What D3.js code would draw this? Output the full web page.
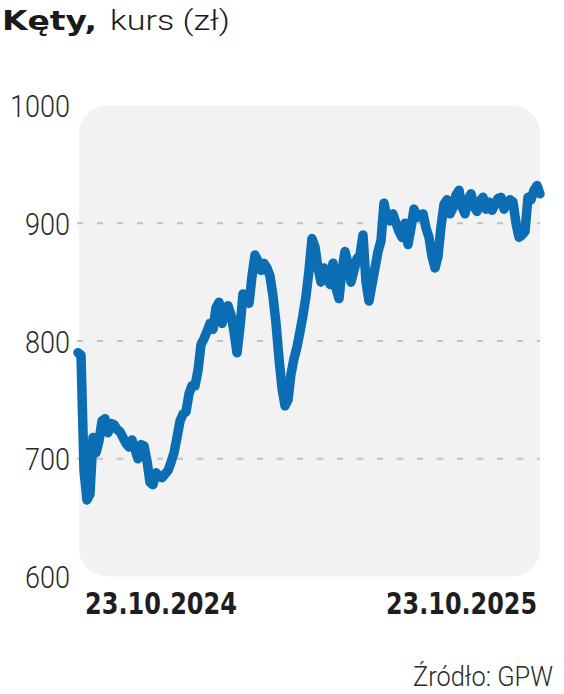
<!DOCTYPE html>
<html>
<head>
<meta charset="utf-8">
<script src="https://cdn.jsdelivr.net/npm/d3@7"></script>
<style>
  html, body { margin: 0; padding: 0; background: #fff; }
  svg { display: block; }
</style>
</head>
<body>
<svg id="chart" width="564" height="694"></svg>
<script>
// ---- data ----
const titleBold = "Kęty,";
const titleRest = "kurs (zł)";
const startLabel = "23.10.2024";
const endLabel = "23.10.2025";
const sourceLabel = "Źródło: GPW";
const yTicks = [600, 700, 800, 900, 1000];
const gridValues = [700, 800, 900];
const prices = [
  790, 788, 690, 665, 670, 718, 705, 715, 732, 734,
  722, 730, 729, 725, 723, 718, 713, 710, 716, 708,
  700, 712, 711, 698, 680, 678, 688, 685, 684, 687,
  690, 697, 705, 718, 732, 738, 740, 755, 762, 762,
  775, 797, 802, 808, 815, 810, 828, 833, 815, 826,
  830, 822, 808, 790, 812, 840, 836, 832, 855, 873,
  868, 860, 866, 862, 855, 838, 815, 785, 760, 745,
  750, 772, 785, 795, 808, 822, 838, 860, 887, 880,
  862, 850, 862, 855, 848, 866, 845, 836, 860, 876,
  866, 850, 860, 870, 873, 890, 850, 834, 848, 862,
  876, 885, 917, 905, 902, 908, 900, 893, 888, 900,
  882, 896, 912, 905, 907, 908, 896, 888, 872, 862,
  872, 897, 916, 920, 908, 913, 924, 928, 914, 908,
  920, 925, 914, 910, 919, 922, 912, 918, 911, 916,
  921, 922, 912, 917, 920, 918, 900, 888, 890, 893,
  922, 920, 928, 932, 925
];

// ---- chart ----
const svg = d3.select("#chart");
const x = d3.scaleLinear().domain([0, prices.length - 1]).range([78, 540]);
const y = d3.scaleLinear().domain([600, 1000]).range([576.5, 105.5]);

// background panel
svg.append("rect")
  .attr("x", x(0) + 1)
  .attr("y", y(1000))
  .attr("width", x(prices.length - 1) - x(0) - 1)
  .attr("height", y(600) - y(1000))
  .attr("rx", 28)
  .attr("fill", "#f2f2f2");

// gridlines
svg.append("g").selectAll("line").data(gridValues).join("line")
  .attr("x1", 77).attr("x2", x(prices.length - 1))
  .attr("y1", d => y(d)).attr("y2", d => y(d))
  .attr("stroke", "#c2c2c2")
  .attr("stroke-width", 2)
  .attr("stroke-dasharray", "6,14");

// y axis labels
const yAxis = d3.axisLeft(y).tickValues(yTicks).tickSize(0).tickPadding(0).tickFormat(d3.format("d"));
const gy = svg.append("g").attr("transform", "translate(70,0)").call(yAxis);
gy.select(".domain").remove();
gy.selectAll("text")
  .attr("font-family", "Roboto, 'DejaVu Sans', sans-serif")
  .attr("font-weight", 300)
  .attr("font-size", 31)
  .attr("fill", "#2a2a2a")
  .attr("dy", "0.36em")
  .attr("x", 0)
  .attr("textLength", d => d >= 1000 ? 60 : 45)
  .attr("lengthAdjust", "spacingAndGlyphs");

// price line
const line = d3.line().x((d, i) => x(i)).y(d => y(d));
svg.append("path")
  .datum(prices)
  .attr("d", line)
  .attr("fill", "none")
  .attr("stroke", "#0b6db3")
  .attr("stroke-width", 9.5)
  .attr("stroke-linejoin", "round")
  .attr("stroke-linecap", "round");

// title
svg.append("text")
  .attr("x", 2).attr("y", 30)
  .attr("font-family", "'DejaVu Sans', sans-serif")
  .attr("font-weight", 700)
  .attr("font-size", 27)
  .attr("fill", "#1a1a1a")
  .attr("textLength", 95)
  .attr("lengthAdjust", "spacingAndGlyphs")
  .text(titleBold);
svg.append("text")
  .attr("x", 110).attr("y", 30)
  .attr("font-family", "Roboto, 'DejaVu Sans', sans-serif")
  .attr("font-weight", 300)
  .attr("font-size", 28)
  .attr("fill", "#1a1a1a")
  .attr("textLength", 120)
  .attr("lengthAdjust", "spacingAndGlyphs")
  .text(titleRest);

// date labels
const dateG = svg.append("g")
  .attr("font-family", "'DejaVu Sans Condensed', 'DejaVu Sans', sans-serif")
  .attr("font-weight", 700)
  .attr("font-size", 31)
  .attr("fill", "#1e1e1e");
dateG.append("text").attr("x", x(0) + 7).attr("y", 614)
  .attr("textLength", 152).attr("lengthAdjust", "spacingAndGlyphs")
  .text(startLabel);
dateG.append("text").attr("x", x(prices.length - 1) - 3).attr("y", 614)
  .attr("text-anchor", "end")
  .attr("textLength", 151).attr("lengthAdjust", "spacingAndGlyphs")
  .text(endLabel);

// source
svg.append("text")
  .attr("x", 553).attr("y", 686)
  .attr("text-anchor", "end")
  .attr("font-family", "Roboto, 'DejaVu Sans', sans-serif")
  .attr("font-weight", 300)
  .attr("font-size", 27)
  .attr("fill", "#2a2a2a")
  .attr("textLength", 140)
  .attr("lengthAdjust", "spacingAndGlyphs")
  .text(sourceLabel);
</script>
</body>
</html>
